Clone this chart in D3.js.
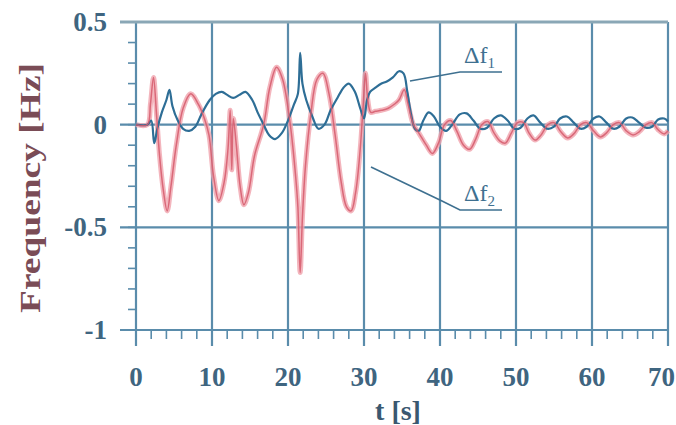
<!DOCTYPE html>
<html>
<head>
<meta charset="utf-8">
<script src="https://cdn.jsdelivr.net/npm/d3@7"></script>
<style>
  body { margin: 0; background: #ffffff; }
  #chart { width: 676px; height: 425px; }
</style>
</head>
<body>
<div id="chart"></div>
<script>
// Data
var t_f1 = [0, 1.5, 2.0, 2.4, 2.8, 3.4, 4.0, 4.4, 4.8, 5.5, 6.2, 7.0, 7.8, 8.6, 9.7, 10.5, 11.3, 12.0, 12.8, 13.6, 14.4, 15.3, 16.0, 16.8, 17.5, 18.3, 19.2, 20.0, 20.8, 21.3, 21.6, 21.9, 22.4, 23.2, 24.0, 24.8, 25.6, 26.5, 27.3, 28.0, 28.8, 29.5, 30.0, 30.4, 30.8, 31.5, 32.3, 33.0, 33.8, 34.6, 35.2, 35.7, 36.2, 36.7, 37.2, 37.8, 38.5, 39.2, 40.0, 40.8, 41.6, 42.6, 43.5, 44.4, 45.3, 46.2, 47.1, 48.0, 48.9, 49.8, 50.6, 51.5, 52.3, 53.2, 54.1, 55.0, 55.8, 56.7, 57.6, 58.5, 59.3, 60.2, 61.0, 61.9, 62.8, 63.6, 64.5, 65.3, 66.2, 67.1, 67.9, 68.7, 69.5, 70];
var df1 = [0, 0, 0.02, -0.09, -0.02, 0.06, 0.12, 0.17, 0.09, 0.02, -0.02, -0.03, -0.01, 0.05, 0.12, 0.15, 0.16, 0.145, 0.13, 0.145, 0.16, 0.12, 0.06, 0.0, -0.05, -0.07, -0.04, 0.02, 0.1, 0.15, 0.35, 0.2, 0.12, 0.04, -0.02, 0.0, 0.07, 0.13, 0.18, 0.2, 0.16, 0.08, 0.03, 0.12, 0.16, 0.18, 0.2, 0.21, 0.23, 0.26, 0.25, 0.16, 0.05, -0.02, -0.03, 0.02, 0.06, 0.04, -0.01, -0.03, 0.0, 0.05, 0.055, 0.02, -0.02, -0.015, 0.03, 0.045, 0.02, -0.02, -0.015, 0.03, 0.045, 0.01, -0.02, -0.01, 0.03, 0.04, 0.01, -0.02, -0.01, 0.03, 0.04, 0.01, -0.02, -0.01, 0.03, 0.035, 0.01, -0.015, -0.01, 0.025, 0.03, 0.015];

var t_f2 = [0, 1.5, 1.9, 2.3, 2.7, 3.1, 3.6, 4.1, 4.6, 5.3, 6.2, 7.2, 8.2, 9.0, 9.6, 10.2, 10.9, 11.6, 12.1, 12.4, 12.6, 12.8, 13.2, 13.7, 14.2, 14.8, 15.6, 16.8, 17.6, 18.5, 19.3, 20.3, 21.0, 21.3, 21.6, 21.9, 22.3, 23.0, 23.8, 24.6, 25.4, 26.2, 27.0, 27.7, 28.3, 28.9, 29.5, 29.9, 30.2, 30.5, 30.9, 31.5, 32.3, 33.2, 34.0, 34.6, 35.3, 35.8, 36.5, 37.2, 38.2, 39.0, 39.8, 40.6, 41.4, 42.2, 43.1, 43.9, 44.7, 45.5, 46.3, 47.1, 47.9, 48.6, 49.4, 50.2, 51.0, 51.7, 52.5, 53.3, 54.2, 55.0, 55.9, 56.8, 57.6, 58.5, 59.3, 60.2, 61.1, 61.9, 62.8, 63.6, 64.5, 65.4, 66.2, 67.1, 67.9, 68.7, 69.5, 70];
var df2 = [0, 0, 0.1, 0.23, 0.05, -0.15, -0.32, -0.42, -0.3, -0.1, 0.08, 0.15, 0.1, 0.03, -0.05, -0.25, -0.37, -0.28, -0.12, 0.07, -0.22, 0.03, -0.1, -0.3, -0.39, -0.33, -0.15, 0.0, 0.18, 0.28, 0.22, 0.0, -0.25, -0.4, -0.72, -0.45, -0.2, 0.05, 0.22, 0.25, 0.15, -0.05, -0.28, -0.4, -0.42, -0.33, -0.12, 0.1, 0.25, 0.12, 0.06, 0.065, 0.07, 0.08, 0.1, 0.12, 0.17, 0.1, 0.0, -0.04, -0.1, -0.14, -0.09, 0.0, 0.02, -0.03, -0.1, -0.12, -0.07, 0.0, 0.015, -0.04, -0.08, -0.09, -0.04, 0.01, 0.01, -0.04, -0.075, -0.05, 0.0, 0.01, -0.035, -0.065, -0.045, 0.0, 0.01, -0.03, -0.06, -0.04, 0.0, 0.01, -0.03, -0.05, -0.035, 0.0, 0.01, -0.025, -0.045, -0.03];

var x_ticks = [0, 10, 20, 30, 40, 50, 60, 70];
var y_ticks = [0.5, 0, -0.5, -1];
var y_tick_labels = ['0.5', '0', '-0.5', '-1'];

// SVG Element
var chart_width = 676;
var chart_height = 425;
var serif = '"Liberation Serif", "DejaVu Serif", serif';
var grid_color = '#5a8cab';
var label_color = '#3f6580';

var svg = d3.select('#chart')
    .append('svg')
    .attr('width', chart_width)
    .attr('height', chart_height);

// scales
var x_scale = d3.scaleLinear().domain([0, 70]).range([136, 668]);
var y_scale = d3.scaleLinear().domain([-1, 0.5]).range([330, 22]);

// minor ticks
svg.selectAll('.xminor')
    .data(d3.range(0, 71, 2))
    .enter()
    .append('line')
    .attr('x1', function (d) { return x_scale(d); })
    .attr('x2', function (d) { return x_scale(d); })
    .attr('y1', y_scale(-1))
    .attr('y2', y_scale(-1) + 9)
    .attr('stroke', grid_color)
    .attr('stroke-width', 1.6);

svg.selectAll('.yminor')
    .data(d3.range(-10, 6).map(function (d) { return d / 10; }))
    .enter()
    .append('line')
    .attr('x1', x_scale(0) - 8)
    .attr('x2', x_scale(0))
    .attr('y1', function (d) { return y_scale(d); })
    .attr('y2', function (d) { return y_scale(d); })
    .attr('stroke', grid_color)
    .attr('stroke-width', 1.6);

// grid
svg.selectAll('.vgrid')
    .data(x_ticks)
    .enter()
    .append('line')
    .attr('x1', function (d) { return x_scale(d); })
    .attr('x2', function (d) { return x_scale(d); })
    .attr('y1', y_scale(0.5))
    .attr('y2', y_scale(-1) + 16)
    .attr('stroke', grid_color)
    .attr('stroke-width', 2.2);

svg.selectAll('.hgrid')
    .data(y_ticks)
    .enter()
    .append('line')
    .attr('x1', x_scale(0) - 16)
    .attr('x2', x_scale(70))
    .attr('y1', function (d) { return y_scale(d); })
    .attr('y2', function (d) { return y_scale(d); })
    .attr('stroke', function (d) { return d === 0.5 ? '#8aa7b6' : grid_color; })
    .attr('stroke-width', function (d) { return d === 0.5 ? 3 : 2.2; });

// tick labels (last one pushed in so it stays on the page)
svg.selectAll('.xlab')
    .data(x_ticks)
    .enter()
    .append('text')
    .text(function (d) { return d; })
    .attr('x', function (d) { return d === 70 ? 675 : x_scale(d); })
    .attr('y', 386)
    .attr('text-anchor', function (d) { return d === 70 ? 'end' : 'middle'; })
    .attr('font-family', serif)
    .attr('font-weight', 'bold')
    .attr('font-size', 27)
    .attr('fill', label_color);

svg.selectAll('.ylab')
    .data(y_ticks)
    .enter()
    .append('text')
    .text(function (d, i) { return y_tick_labels[i]; })
    .attr('x', 107)
    .attr('y', function (d) { return y_scale(d) + 9; })
    .attr('text-anchor', 'end')
    .attr('font-family', serif)
    .attr('font-weight', 'bold')
    .attr('font-size', 27)
    .attr('fill', label_color);

// axis titles
svg.append('text')
    .text('t  [s]')
    .attr('x', 398)
    .attr('y', 420)
    .attr('text-anchor', 'middle')
    .attr('font-family', serif)
    .attr('font-weight', 'bold')
    .attr('font-size', 28)
    .attr('fill', '#3a5870');

svg.append('text')
    .text('Frequency  [Hz]')
    .attr('transform', 'translate(40,188) rotate(-90)')
    .attr('text-anchor', 'middle')
    .attr('textLength', 250)
    .attr('lengthAdjust', 'spacingAndGlyphs')
    .attr('font-family', serif)
    .attr('font-weight', 'bold')
    .attr('font-size', 30)
    .attr('fill', '#7a4c56');

// lines
var line = d3.line()
    .x(function (d) { return x_scale(d[0]); })
    .y(function (d) { return y_scale(d[1]); })
    .curve(d3.curveCatmullRom.alpha(0.5));

var pts1 = t_f1.map(function (t, i) { return [t, df1[i]]; });
var pts2 = t_f2.map(function (t, i) { return [t, df2[i]]; });

var plot = svg.append('g');

plot.append('path')
    .attr('d', line(pts2))
    .attr('fill', 'none')
    .attr('stroke', '#f0a3ad')
    .attr('stroke-width', 5)
    .attr('stroke-opacity', 0.8);

plot.append('path')
    .attr('d', line(pts1))
    .attr('fill', 'none')
    .attr('stroke', '#2e6e96')
    .attr('stroke-width', 2.2);

plot.append('path')
    .attr('d', line(pts2))
    .attr('fill', 'none')
    .attr('stroke', '#d55a6c')
    .attr('stroke-width', 1.5)
    .attr('stroke-opacity', 0.85);

// annotations
var ann_color = '#3e7090';

svg.append('polyline')
    .attr('points', '410,81 460,72 502,72')
    .attr('fill', 'none')
    .attr('stroke', ann_color)
    .attr('stroke-width', 1.6);

svg.append('polyline')
    .attr('points', '371,167 442,201 460,210 502,210')
    .attr('fill', 'none')
    .attr('stroke', ann_color)
    .attr('stroke-width', 1.6);

var a1 = svg.append('text')
    .attr('x', 464)
    .attr('y', 63)
    .attr('font-family', serif)
    .attr('font-size', 24)
    .attr('fill', ann_color);
a1.append('tspan').text('Δf');
a1.append('tspan').text('1').attr('font-size', 15).attr('dy', 5);

var a2 = svg.append('text')
    .attr('x', 464)
    .attr('y', 201)
    .attr('font-family', serif)
    .attr('font-size', 24)
    .attr('fill', ann_color);
a2.append('tspan').text('Δf');
a2.append('tspan').text('2').attr('font-size', 15).attr('dy', 5);
</script>
</body>
</html>
